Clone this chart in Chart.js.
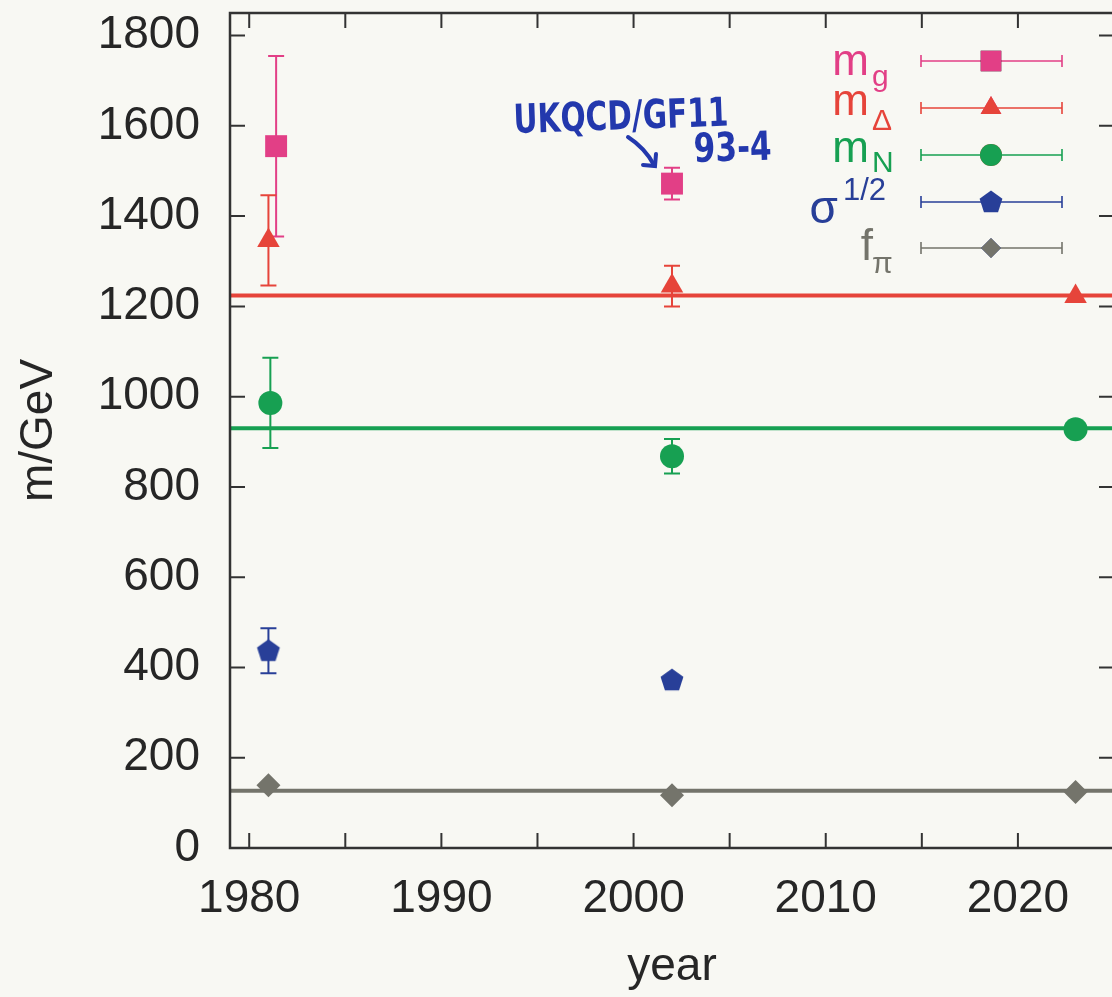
<!DOCTYPE html>
<html>
<head>
<meta charset="utf-8">
<script src="https://cdn.jsdelivr.net/npm/chart.js@4"></script>
<style>
  html, body { margin: 0; padding: 0; background: #f8f8f3; overflow: hidden; }
  #wrap { width: 1130px; height: 997px; }
</style>
</head>
<body>
<div id="wrap"><canvas id="myChart"></canvas></div>
<script>
// masses in MeV, by year of the calculation

const mgYears = [1981.4, 2002];
const mgValues = [1555, 1472];
const mgErrors = [200, 35];

const mDeltaYears = [1981, 2002, 2023];
const mDeltaValues = [1346, 1245, 1222];
const mDeltaErrors = [100, 45, 0];

const mNYears = [1981.1, 2002, 2023];
const mNValues = [986, 868, 928];
const mNErrors = [100, 38, 0];

const sigmaYears = [1981, 2002];
const sigmaValues = [437, 372];
const sigmaErrors = [50, 0];

const fpiYears = [1981, 2002, 2023];
const fpiValues = [139, 117, 124];
const fpiErrors = [0, 0, 0];

// experimental values, drawn across the whole range
const lineYears = [1979, 2025];
const mDeltaPhys = 1224;
const mNPhys = 930;
const fpiPhys = 127;

const xTicks = [1980, 1985, 1990, 1995, 2000, 2005, 2010, 2015, 2020];
const yTicks = [0, 200, 400, 600, 800, 1000, 1200, 1400, 1600, 1800];

const legendNames = [
  { main: "m", sub: "g" },
  { main: "m", sub: "\u0394" },
  { main: "m", sub: "N" },
  { main: "\u03c3", sup: "1/2" },
  { main: "f", sub: "\u03c0" },
];

const pink = "#e23f86";
const red = "#e6443a";
const green = "#17a052";
const blue = "#283f98";
const grey = "#74746b";
const ink = "#262626";
const FONT = '"Liberation Sans", Arial, Helvetica, sans-serif';

// gnuplot-like pentagon marker
function pentagon(color) {
  const c = document.createElement("canvas");
  c.width = 26;
  c.height = 26;
  const g = c.getContext("2d");
  g.beginPath();
  for (let k = 0; k < 5; k++) {
    const a = -Math.PI / 2 + (k * 2 * Math.PI) / 5;
    const px = 13 + 12 * Math.cos(a);
    const py = 13.5 + 12 * Math.sin(a);
    if (k === 0) g.moveTo(px, py);
    else g.lineTo(px, py);
  }
  g.closePath();
  g.fillStyle = color;
  g.fill();
  return c;
}
const pentagonMark = pentagon(blue);

function pts(xs, ys) {
  return xs.map((x, i) => ({ x, y: ys[i] }));
}

function flat(v) {
  return lineYears.map((x) => ({ x, y: v }));
}

const series = [
  { data: pts(mgYears, mgValues), errors: mgErrors, color: pink, style: "rect", radius: 15.5 },
  { data: pts(mDeltaYears, mDeltaValues), errors: mDeltaErrors, color: red, style: "triangle", radius: 13 },
  { data: pts(mNYears, mNValues), errors: mNErrors, color: green, style: "circle", radius: 12 },
  { data: pts(sigmaYears, sigmaValues), errors: sigmaErrors, color: blue, style: pentagonMark, radius: 12 },
  { data: pts(fpiYears, fpiValues), errors: fpiErrors, color: grey, style: "rectRot", radius: 12 },
];

const pointSets = series.map((s) => ({
  type: "scatter",
  data: s.data,
  errors: s.errors,
  backgroundColor: s.color,
  borderColor: s.color,
  borderWidth: 0,
  pointStyle: s.style,
  pointRadius: s.radius,
}));

const lineSets = [
  [mDeltaPhys, red],
  [mNPhys, green],
  [fpiPhys, grey],
].map(([v, color]) => ({
  type: "line",
  data: flat(v),
  borderColor: color,
  borderWidth: 4,
  pointRadius: 0,
  fill: false,
}));

// frame with inward ticks on all four sides
const frame = {
  id: "frame",
  afterDatasetsDraw(chart) {
    const { ctx, chartArea: a, scales } = chart;
    ctx.save();
    ctx.strokeStyle = "#333";
    ctx.lineWidth = 2.5;
    ctx.strokeRect(a.left, a.top, a.right - a.left, a.bottom - a.top);
    ctx.lineWidth = 2;
    ctx.beginPath();
    xTicks.forEach((v) => {
      const x = scales.x.getPixelForValue(v);
      ctx.moveTo(x, a.bottom);
      ctx.lineTo(x, a.bottom - 15);
      ctx.moveTo(x, a.top);
      ctx.lineTo(x, a.top + 15);
    });
    yTicks.forEach((v) => {
      const y = scales.y.getPixelForValue(v);
      ctx.moveTo(a.left, y);
      ctx.lineTo(a.left + 15, y);
      ctx.moveTo(a.right, y);
      ctx.lineTo(a.right - 15, y);
    });
    ctx.stroke();
    ctx.restore();
  },
};

// vertical error bars with caps
function errorBar(ctx, x, y1, y2, color) {
  ctx.strokeStyle = color;
  ctx.lineWidth = 2;
  ctx.beginPath();
  ctx.moveTo(x, y1);
  ctx.lineTo(x, y2);
  ctx.moveTo(x - 8, y1);
  ctx.lineTo(x + 8, y1);
  ctx.moveTo(x - 8, y2);
  ctx.lineTo(x + 8, y2);
  ctx.stroke();
}

const errorBars = {
  id: "errorBars",
  beforeDatasetsDraw(chart) {
    const { ctx, scales } = chart;
    ctx.save();
    chart.data.datasets.forEach((ds) => {
      if (!ds.errors) return;
      ds.data.forEach((p, i) => {
        const e = ds.errors[i];
        if (!e) return;
        const x = scales.x.getPixelForValue(p.x);
        errorBar(ctx, x, scales.y.getPixelForValue(p.y + e), scales.y.getPixelForValue(p.y - e), ds.borderColor);
      });
    });
    ctx.restore();
  },
};

// key with sub/superscripts, drawn inside the plot
const key = {
  id: "key",
  afterDatasetsDraw(chart) {
    const { ctx } = chart;
    const x0 = 921, x1 = 1062, xm = 991;
    const rowY = [61, 108, 155, 202, 248];
    const baseShift = [14, 7, 7, 21, 12];
    const subShift = [11, 15, 10, 0, 13];
    ctx.save();
    legendNames.forEach((n, i) => {
      const s = series[i];
      const y = rowY[i];
      ctx.strokeStyle = s.color;
      ctx.lineWidth = 1.6;
      ctx.beginPath();
      ctx.moveTo(x0, y);
      ctx.lineTo(x1, y);
      ctx.moveTo(x0, y - 6);
      ctx.lineTo(x0, y + 6);
      ctx.moveTo(x1, y - 6);
      ctx.lineTo(x1, y + 6);
      ctx.stroke();
      Chart.helpers.drawPoint(ctx, {
        pointStyle: s.style,
        radius: i === 4 ? 10 : s.radius - 1,
        borderWidth: 0,
      }, xm, y);
      ctx.fillStyle = s.color;
      ctx.fill();

      const base = y + baseShift[i];
      ctx.fillStyle = s.color;
      ctx.textBaseline = "alphabetic";
      if (n.sup) {
        ctx.font = "46px " + FONT;
        ctx.textAlign = "right";
        ctx.fillText(n.main, 838, base);
        ctx.font = "31px " + FONT;
        ctx.textAlign = "left";
        ctx.fillText(n.sup, 843, base - 23);
      } else {
        ctx.font = "44px " + FONT;
        ctx.textAlign = "right";
        ctx.fillText(n.main, n.main === "f" ? 873 : 869, base);
        ctx.font = "30px " + FONT;
        ctx.textAlign = "left";
        ctx.fillText(n.sub, 872, base + subShift[i]);
      }
    });
    ctx.restore();
  },
};

// handwritten note pointing at the 2002 glueball mass
const note = {
  id: "note",
  afterDatasetsDraw(chart) {
    const { ctx } = chart;
    ctx.save();
    ctx.fillStyle = "#2338ad";
    ctx.strokeStyle = "#2338ad";
    ctx.font = 'bold 40px "DejaVu Sans", sans-serif';
    ctx.textBaseline = "alphabetic";
    ctx.save();
    ctx.translate(514, 133);
    ctx.rotate(-0.035);
    ctx.scale(0.74, 1);
    ctx.fillText("UKQCD/GF11", 0, 0);
    ctx.restore();
    ctx.save();
    ctx.translate(694, 162);
    ctx.rotate(-0.03);
    ctx.scale(0.78, 1);
    ctx.fillText("93-4", 0, 0);
    ctx.restore();

    ctx.lineWidth = 4;
    ctx.lineCap = "round";
    ctx.beginPath();
    ctx.moveTo(628, 137);
    ctx.quadraticCurveTo(645, 148, 654, 165);
    ctx.stroke();
    ctx.beginPath();
    ctx.moveTo(643, 165);
    ctx.lineTo(655, 166);
    ctx.lineTo(656, 154);
    ctx.stroke();
    ctx.restore();
  },
};

const tickFont = { family: FONT, size: 46 };

const ctx = document.getElementById("myChart").getContext("2d");
new Chart(ctx, {
  data: { datasets: [...pointSets, ...lineSets] },
  options: {
    responsive: true,
    maintainAspectRatio: false,
    animation: false,
    layout: { padding: { top: 13, right: 16, left: 0, bottom: 0 }, autoPadding: false },
    plugins: { legend: { display: false }, tooltip: { enabled: false } },
    scales: {
      x: {
        type: "linear",
        min: 1979,
        max: 2025,
        afterBuildTicks: (s) => {
          s.ticks = xTicks.map((v) => ({ value: v }));
        },
        afterFit: (s) => {
          s.height = 149;
          s.paddingLeft = 0;
          s.paddingRight = 0;
        },
        grid: { display: false, drawTicks: false },
        border: { display: false },
        ticks: {
          font: tickFont,
          color: ink,
          padding: 24,
          autoSkip: false,
          maxRotation: 0,
          callback: (v) => (v % 10 === 0 ? String(v) : ""),
        },
        title: {
          display: true,
          text: "year",
          font: tickFont,
          color: ink,
          padding: { top: 0, bottom: 2 },
        },
      },
      y: {
        type: "linear",
        min: 0,
        max: 1850,
        afterBuildTicks: (s) => {
          s.ticks = yTicks.map((v) => ({ value: v }));
        },
        afterFit: (s) => {
          s.width = 230;
          s.paddingTop = 0;
          s.paddingBottom = 0;
        },
        grid: { display: false, drawTicks: false },
        border: { display: false },
        ticks: {
          font: tickFont,
          color: ink,
          padding: 30,
          autoSkip: false,
          callback: (v) => String(v),
        },
        title: {
          display: true,
          text: "m/GeV",
          font: tickFont,
          color: ink,
          padding: { top: 12, bottom: 0 },
        },
      },
    },
  },
  plugins: [errorBars, frame, key, note],
});
</script>
</body>
</html>
